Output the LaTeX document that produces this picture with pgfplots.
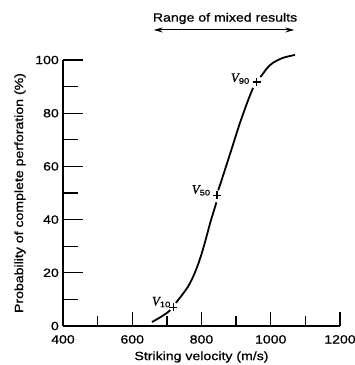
\documentclass[border=0pt]{standalone}
\usepackage{fontspec}
\setmainfont{Liberation Sans}[FakeStretch=1.18, FakeBold=0.8]
\newfontfamily\vfont{Liberation Serif}[FakeBold=0.8]
\usepackage{pgfplots}
\pgfplotsset{compat=1.18}
\usetikzlibrary{arrows.meta}
\newcommand{\Vsub}[1]{{\vfont\itshape\fontsize{13}{14}\selectfont V}\textsubscript{#1}}
\begin{document}
\fontsize{12}{14}\selectfont
\begin{tikzpicture}
\begin{axis}[
  at={(0,0)}, anchor=south west,
  scale only axis, width=277bp, height=266bp,
  xmin=400, xmax=1200, ymin=0, ymax=100,
  axis x line=bottom, axis y line=left,
  axis line style={-, line width=1.5bp},
  tick align=inside,
  xtick={400,600,...,1200}, ytick={0,20,...,100},
  minor x tick num=1, minor y tick num=1,
  x tick style={black, line width=1.3bp, /pgfplots/major tick length=14bp, /pgfplots/minor tick length=10bp},
  y tick style={black, line width=1.3bp, /pgfplots/major tick length=20bp, /pgfplots/minor tick length=15bp},
  /pgf/number format/assume math mode=true,
  /pgf/number format/1000 sep={},
  xticklabel style={yshift=-5bp},
  every axis x label/.style={at={(axis description cs:0.5,0)}, anchor=center, yshift=-31bp},
  every axis y label/.style={at={(axis description cs:0,0.5)}, xshift=-43bp, rotate=90, anchor=center},
  xlabel={Striking velocity (m/s)},
  ylabel={Probability of complete perforation (\%)},
  clip=false,
]
\addplot[line width=1.8bp, smooth] coordinates {(657,1.5) (680,3.2) (700,4.9) (710,6.0)};
\addplot[line width=1.8bp, smooth] coordinates {(726,8.7) (734,10.0) (747,12.2) (762,15.0) (775,18.3) (788,22.4) (800,27.0) (812,32.4) (825,38.7) (839,44.7) (843,46.5)};
\addplot[line width=1.8bp, smooth] coordinates {(848,51) (853,52.8) (882,64.5) (911,76.3) (935,85) (949,89.5)};
\addplot[line width=1.8bp, smooth] coordinates {(970,93.6) (975,94.4) (990,97) (1006,98.9) (1035,100.8) (1070,101.9)};
\addplot[only marks, mark=+, mark size=4bp, line width=1.2bp] coordinates {(718,7.1) (845,49.2) (960,91.7)};
\node[anchor=east, inner sep=0pt] at (axis cs:712,9) {\Vsub{10}};
\node[anchor=east, inner sep=0pt] at (axis cs:827,51) {\Vsub{50}};
\node[anchor=east, inner sep=0pt] at (axis cs:940,93) {\Vsub{90}};
\draw[{Stealth[length=9bp,width=5bp]}-{Stealth[length=9bp,width=5bp]}, line width=0.9bp] (axis cs:662,111.3) -- (axis cs:1068,111.3);
\node[anchor=center] at (axis cs:868,115.6) {Range of mixed results};
\end{axis}
\pgfresetboundingbox
\path (-63bp,-39bp) rectangle (292bp,326bp);
\end{tikzpicture}
\end{document}
